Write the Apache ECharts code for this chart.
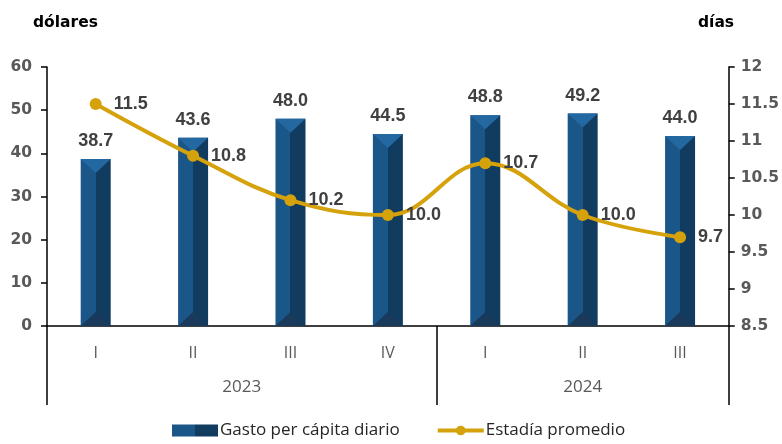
<!DOCTYPE html>
<html>
<head>
<meta charset="utf-8">
<script src="https://cdn.jsdelivr.net/npm/echarts@6/dist/echarts.min.js"></script>
<style>html,body{margin:0;padding:0;background:#fff}#c{width:782px;height:444px}</style>
</head>
<body>
<div id="c"></div>
<script>
const categories = ['I', 'II', 'III', 'IV', 'I', 'II', 'III'];
const yearLabels = ['', '', '', '', '2023', '', '', '', '', '', '', '2024', '', '', ''];
const gasto = [38.7, 43.6, 48.0, 44.5, 48.8, 49.2, 44.0];
const estadia = [11.5, 10.8, 10.2, 10.0, 10.7, 10.0, 9.7];
const leftTicks = { min: 0, max: 60, interval: 10 };
const rightTicks = { min: 8.5, max: 12, interval: 0.5 };

const labFont = "'Liberation Sans', Arial, sans-serif";
const tickFont = "'DejaVu Sans', sans-serif";
const txtFont = "'Open Sans', sans-serif";
const barGrad = new echarts.graphic.LinearGradient(0, 0, 1, 0, [
  { offset: 0, color: '#1B5689' }, { offset: 0.5, color: '#1B5689' },
  { offset: 0.5, color: '#113B5F' }, { offset: 1, color: '#113B5F' }
]);

const chart = echarts.init(document.getElementById('c'), null, { renderer: 'canvas' });
chart.setOption({
  animation: false,
  title: [
    { text: 'dólares', left: 28, top: 10, textStyle: { fontFamily: tickFont, fontSize: 15.5, fontWeight: 'bold', color: '#000' } },
    { text: 'días', left: 693, top: 10, textStyle: { fontFamily: tickFont, fontSize: 15.5, fontWeight: 'bold', color: '#000' } }
  ],
  grid: { left: 47, right: 53, top: 67, bottom: 118 },
  legend: {
    data: [
      { name: 'Gasto per cápita diario', icon: 'rect' },
      { name: 'Estadía promedio', lineStyle: { width: 4 } }
    ],
    bottom: 0, left: 167,
    itemWidth: 46, itemHeight: 12, itemGap: 36,
    textStyle: { fontFamily: txtFont, fontSize: 17, color: '#262626', padding: [0, 0, 0, -3] }
  },
  xAxis: [
    {
      type: 'category', data: categories,
      axisLine: { lineStyle: { color: '#000', width: 1.5 } },
      axisTick: { show: false },
      axisLabel: { color: '#595959', fontFamily: txtFont, fontSize: 16, margin: 19 }
    },
    {
      type: 'category', data: yearLabels, boundaryGap: false, position: 'bottom',
      axisLine: { show: false },
      axisTick: { show: true, length: 79, interval: (i) => i === 0 || i === 8 || i === 14, lineStyle: { color: '#000', width: 1.5 } },
      axisLabel: { interval: 0, color: '#595959', fontFamily: txtFont, fontSize: 17, margin: 53 }
    }
  ],
  yAxis: [
    {
      type: 'value', min: leftTicks.min, max: leftTicks.max, interval: leftTicks.interval,
      axisLine: { show: true, lineStyle: { color: '#000', width: 1.5 } },
      axisTick: { show: true, length: 6, lineStyle: { color: '#000', width: 1.5 } },
      splitLine: { show: false },
      axisLabel: { color: '#595959', fontFamily: tickFont, fontSize: 15.5, fontWeight: 'bold', margin: 15 }
    },
    {
      type: 'value', min: rightTicks.min, max: rightTicks.max, interval: rightTicks.interval,
      axisLine: { show: true, lineStyle: { color: '#000', width: 1.5 } },
      axisTick: { show: true, length: 6, lineStyle: { color: '#000', width: 1.5 } },
      splitLine: { show: false },
      axisLabel: { color: '#595959', fontFamily: tickFont, fontSize: 15.5, fontWeight: 'bold', margin: 12 }
    }
  ],
  series: [
    {
      name: 'Gasto per cápita diario', type: 'bar', data: gasto, barWidth: 30,
      itemStyle: { color: barGrad },
      label: { show: true, position: 'top', distance: 9, formatter: (p) => p.value.toFixed(1),
        fontFamily: labFont, fontSize: 18, fontWeight: 'bold', color: '#404040' },
      z: 2
    },
    {
      name: 'bevel', type: 'custom', silent: true, z: 3,
      data: gasto.map((v, i) => [i, v]),
      encode: { x: 0, y: 1 },
      renderItem: function (params, api) {
        const top = api.coord([api.value(0), api.value(1)]);
        const base = api.coord([api.value(0), 0]);
        const w = 30, h = 14, cx = top[0];
        return { type: 'group', children: [
          { type: 'polygon', shape: { points: [[cx - w / 2, top[1]], [cx + w / 2, top[1]], [cx, top[1] + h]] }, style: { fill: '#2468A2' } },
          { type: 'polygon', shape: { points: [[cx - w / 2, base[1]], [cx + w / 2, base[1]], [cx, base[1] - h]] }, style: { fill: '#1A3A5C' } }
        ] };
      }
    },
    {
      name: 'Estadía promedio', type: 'line', yAxisIndex: 1, data: estadia,
      smooth: 0.4, symbol: 'circle', symbolSize: 12,
      lineStyle: { color: '#D6A20B', width: 4 },
      itemStyle: { color: '#D6A20B' },
      label: { show: true, position: 'right', distance: 12, formatter: (p) => p.value.toFixed(1),
        fontFamily: labFont, fontSize: 18, fontWeight: 'bold', color: '#404040' },
      z: 5
    }
  ]
});
</script>
</body>
</html>
